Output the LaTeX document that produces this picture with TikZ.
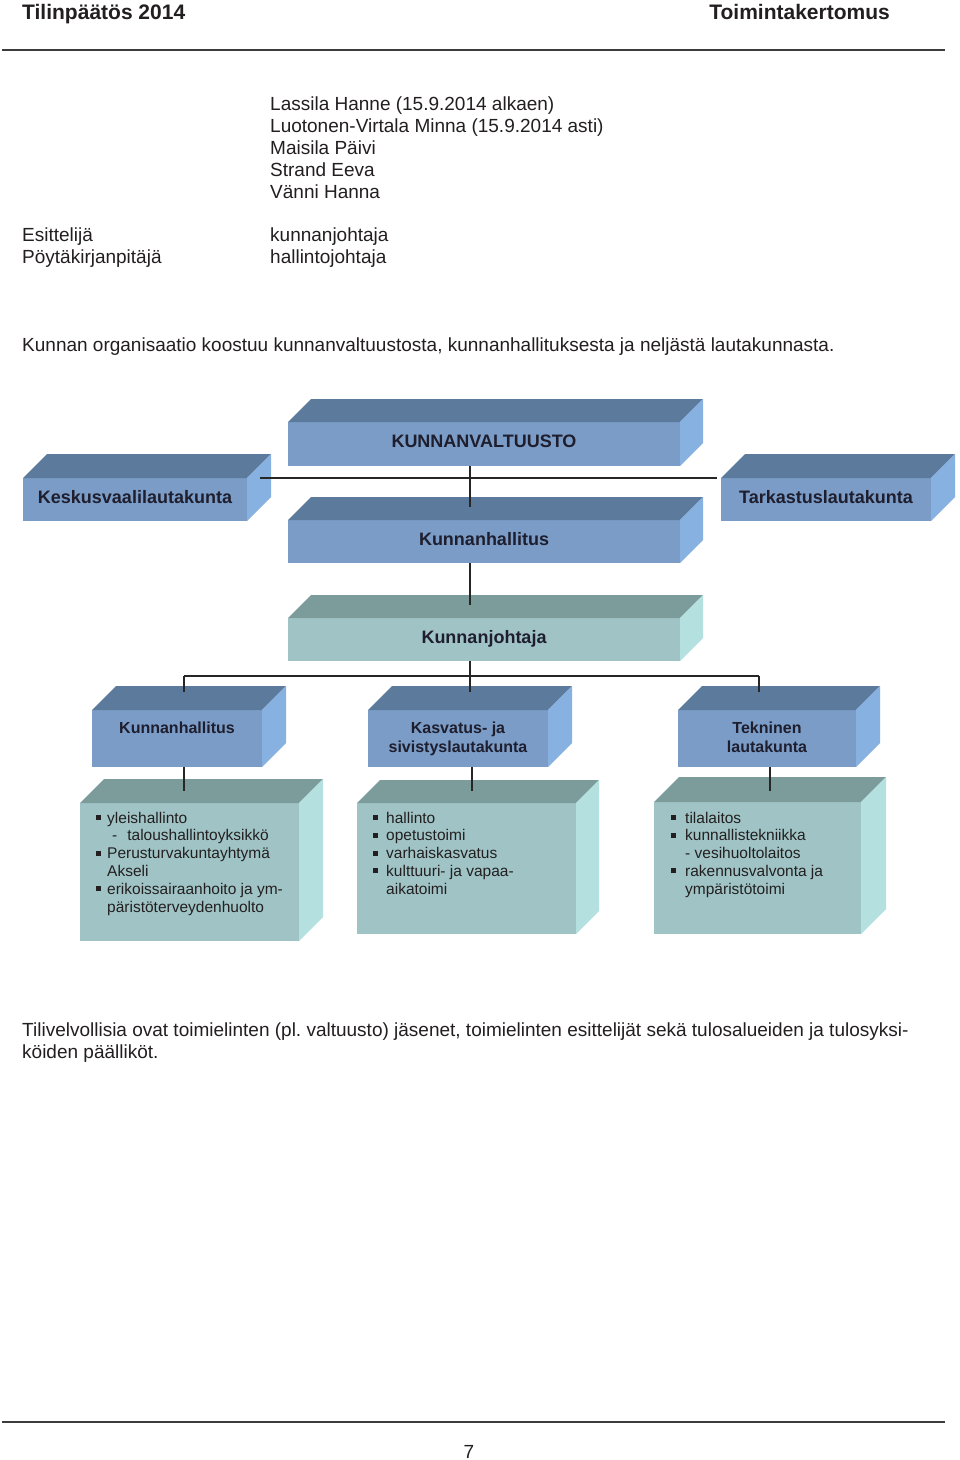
\documentclass[tikz,border=0pt]{standalone}
\usepackage{fontspec}
\setmainfont{Liberation Sans}
\frenchspacing
\definecolor{btop}{HTML}{5B7A9C}
\definecolor{bfront}{HTML}{7A9CC6}
\definecolor{bside}{HTML}{87B1E0}
\definecolor{ttop}{HTML}{7C9C9C}
\definecolor{tfront}{HTML}{A0C4C6}
\definecolor{tside}{HTML}{B4E0E0}
\definecolor{txt}{HTML}{231F20}
\definecolor{lblc}{HTML}{1E1E2E}
\definecolor{hline}{HTML}{3C3C3C}
\definecolor{cline}{HTML}{262626}
\newcommand\cubefaces[4]{%
  \fill[#3] (#1.north west) -- ([shift={(#2,-#2)}]#1.north west) -- ([shift={(#2,-#2)}]#1.north east) -- (#1.north east) -- cycle;
  \fill[#4] (#1.north east) -- ([shift={(#2,-#2)}]#1.north east) -- ([shift={(#2,-#2)}]#1.south east) -- (#1.south east) -- cycle;}
\newcommand\bul[1]{\makebox[#1pt][l]{\rule[3pt]{5pt}{5pt}}}
\tikzset{
  face/.style={inner sep=0pt, outer sep=0pt, anchor=north west, draw=none},
  bigl/.style={inner sep=0pt, text=lblc, font=\fontsize{18}{21}\selectfont\bfseries},
  midl/.style={inner sep=0pt, text=lblc, anchor=base, font=\fontsize{16}{19}\selectfont\bfseries},
  body/.style={inner sep=0pt, text=txt, anchor=base west},
  conn/.style={draw=cline, line width=1.4pt},
}
\begin{document}
\begin{tikzpicture}[x=1pt,y=-1pt]
\useasboundingbox[fill=white] (0,0) rectangle (960,1460);

% header / footer
\node[body, font=\fontsize{21}{25}\selectfont\bfseries] (h1) at (22,19) {Tilinpäätös 2014};
\node[body, anchor=base east, font=\fontsize{21}{25}\selectfont\bfseries] (h2) at (890,19) {Toimintakertomus};
\draw[hline, line width=2pt] (2,50) -- (945,50);
\draw[hline, line width=2pt] (2,1422) -- (945,1422);
\node[inner sep=0pt, text=txt, anchor=base, font=\fontsize{19}{22}\selectfont] (pg) at (469,1458) {7};

% top texts
\node[body] (names) at (270,110) {\parbox[t]{500pt}{\fontsize{19}{22}\selectfont
Lassila Hanne (15.9.2014 alkaen)\\
Luotonen-Virtala Minna (15.9.2014 asti)\\
Maisila Päivi\\
Strand Eeva\\
Vänni Hanna}};
\node[body] (roles) at (22,241) {\parbox[t]{240pt}{\fontsize{19}{22}\selectfont
Esittelijä\\
Pöytäkirjanpitäjä}};
\node[body] (roleval) at (270,241) {\parbox[t]{300pt}{\fontsize{19}{22}\selectfont
kunnanjohtaja\\
hallintojohtaja}};
\node[body, font=\fontsize{19}{22}\selectfont] (intro) at (22,351) {Kunnan organisaatio koostuu kunnanvaltuustosta, kunnanhallituksesta ja neljästä lautakunnasta.};
\node[body] (outro) at (22,1036) {\parbox[t]{940pt}{\fontsize{19}{22}\selectfont
Tilivelvollisia ovat toimielinten (pl. valtuusto) jäsenet, toimielinten esittelijät sekä tulosalueiden ja tulosyksi-\\
köiden päälliköt.}};

% level boxes
\node[face, fill=bfront, minimum width=392pt, minimum height=44pt] (kv) at (288,422) {};
\cubefaces{kv}{23}{btop}{bside}
\node[bigl] (kvt) at ([yshift=2.5pt]kv.center) {KUNNANVALTUUSTO};

\node[face, fill=bfront, minimum width=224pt, minimum height=43pt] (kvl) at (23,478) {};
\cubefaces{kvl}{24}{btop}{bside}
\node[bigl] (kvlt) at ([yshift=2.5pt]kvl.center) {Keskusvaalilautakunta};

\node[face, fill=bfront, minimum width=210pt, minimum height=43pt] (tark) at (721,478) {};
\cubefaces{tark}{24}{btop}{bside}
\node[bigl] (tarkt) at ([yshift=2.5pt]tark.center) {Tarkastuslautakunta};

\node[face, fill=bfront, minimum width=392pt, minimum height=43pt] (kh) at (288,520) {};
\cubefaces{kh}{23}{btop}{bside}
\node[bigl] (kht) at ([yshift=2.5pt]kh.center) {Kunnanhallitus};

\node[face, fill=tfront, minimum width=392pt, minimum height=43pt] (kj) at (288,618) {};
\cubefaces{kj}{23}{ttop}{tside}
\node[bigl] (kjt) at ([yshift=1pt]kj.center) {Kunnanjohtaja};

% second level
\node[face, fill=bfront, minimum width=170pt, minimum height=57pt] (kh2) at (92,710) {};
\cubefaces{kh2}{24}{btop}{bside}
\node[midl] (kh2t) at ([yshift=-23pt]kh2.north) {\begin{tabular}[t]{@{}c@{}}Kunnanhallitus\end{tabular}};

\node[face, fill=bfront, minimum width=180pt, minimum height=57pt] (kas) at (368,710) {};
\cubefaces{kas}{24}{btop}{bside}
\node[midl] (kast) at ([yshift=-23pt]kas.north) {\begin{tabular}[t]{@{}c@{}}Kasvatus- ja\\sivistyslautakunta\end{tabular}};

\node[face, fill=bfront, minimum width=178pt, minimum height=57pt] (tek) at (678,710) {};
\cubefaces{tek}{24}{btop}{bside}
\node[midl] (tekt) at ([yshift=-23pt]tek.north) {\begin{tabular}[t]{@{}c@{}}Tekninen\\lautakunta\end{tabular}};

% third level
\node[face, fill=tfront, minimum width=219pt, minimum height=138pt] (b1) at (80,803) {};
\cubefaces{b1}{24}{ttop}{tside}
\node[body] (b1t) at (96,823) {\parbox[t]{220pt}{\fontsize{15.5}{17.8}\selectfont
\bul{11}yleishallinto\\
\hspace*{16pt}-\hspace*{10pt}taloushallintoyksikkö\\
\bul{11}Perusturvakuntayhtymä\\
\hspace*{11pt}Akseli\\
\bul{11}erikoissairaanhoito ja ym-\\
\hspace*{11pt}päristöterveydenhuolto}};

\node[face, fill=tfront, minimum width=219pt, minimum height=131pt] (b2) at (357,803) {};
\cubefaces{b2}{23}{ttop}{tside}
\node[body] (b2t) at (373,823) {\parbox[t]{220pt}{\fontsize{15.5}{17.8}\selectfont
\bul{13}hallinto\\
\bul{13}opetustoimi\\
\bul{13}varhaiskasvatus\\
\bul{13}kulttuuri- ja vapaa-\\
\hspace*{13pt}aikatoimi}};

\node[face, fill=tfront, minimum width=207pt, minimum height=132pt] (b3) at (654,802) {};
\cubefaces{b3}{25}{ttop}{tside}
\node[body] (b3t) at (671,823) {\parbox[t]{220pt}{\fontsize{15.5}{17.8}\selectfont
\bul{14}tilalaitos\\
\bul{14}kunnallistekniikka\\
\hspace*{14pt}- vesihuoltolaitos\\
\bul{14}rakennusvalvonta ja\\
\hspace*{14pt}ympäristötoimi}};

% connectors
\coordinate (hl) at ([xshift=13pt]kvl.north east);
\coordinate (hr) at ([xshift=-4pt]tark.north west);
\draw[conn] (hl) -- (hr);
\draw[conn] ([xshift=-14pt]kv.south) -- ([xshift=-14pt,yshift=13pt]kh.north);
\draw[conn] ([xshift=-14pt]kh.south) -- ([xshift=-14pt,yshift=13pt]kj.north);
\coordinate (brA) at ([xshift=7pt,yshift=34pt]kh2.north);
\coordinate (brB) at ([xshift=12pt,yshift=34pt]kas.north);
\coordinate (brC) at ([xshift=-8pt,yshift=34pt]tek.north);
\draw[conn] ([xshift=-14pt]kj.south) -- (brB);
\draw[conn] (brA) -- (brC);
\draw[conn] (brA) -- ([xshift=7pt,yshift=18pt]kh2.north);
\draw[conn] (brB) -- ([xshift=12pt,yshift=18pt]kas.north);
\draw[conn] (brC) -- ([xshift=-8pt,yshift=18pt]tek.north);
\coordinate (l1) at ([xshift=7pt]kh2.south);
\coordinate (l2) at ([xshift=14pt]kas.south);
\coordinate (l3) at ([xshift=3pt]tek.south);
\coordinate (t1) at ([yshift=12pt]b1.north);
\draw[conn] (l1) -- (l1 |- t1);
\draw[conn] (l2) -- (l2 |- t1);
\draw[conn] (l3) -- (l3 |- t1);
\end{tikzpicture}
\end{document}
